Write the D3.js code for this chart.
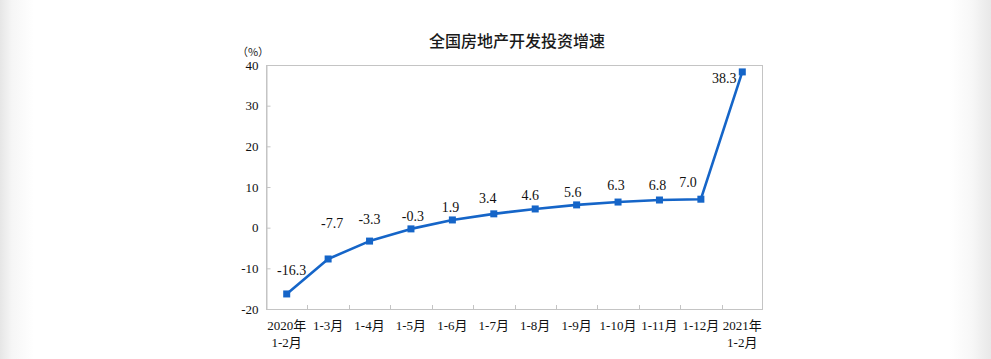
<!DOCTYPE html>
<html>
<head>
<meta charset="utf-8">
<script src="https://cdn.jsdelivr.net/npm/d3@7"></script>
<style>
  html, body { margin: 0; padding: 0; }
  body {
    width: 991px; height: 359px; overflow: hidden;
    background: linear-gradient(to right, #e6e6e6 0px, #f6f6f6 12px, #ffffff 34px, #ffffff 950px, #f7f7f7 972px, #e8e8e8 991px);
  }
  svg { display: block; }
</style>
</head>
<body>
<svg id="chart" width="991" height="359"></svg>
<script>
// ---- data ----
const title = "全国房地产开发投资增速";
const unitLabel = "（%）";
const categories = [
  ["2020年", "1-2月"], ["1-3月"], ["1-4月"], ["1-5月"], ["1-6月"], ["1-7月"],
  ["1-8月"], ["1-9月"], ["1-10月"], ["1-11月"], ["1-12月"], ["2021年", "1-2月"]
];
const values = [-16.3, -7.7, -3.3, -0.3, 1.9, 3.4, 4.6, 5.6, 6.3, 6.8, 7.0, 38.3];
const yTicks = [-20, -10, 0, 10, 20, 30, 40];
// label nudges (layout only)
const labelDx = [5, 4, 0, 2, -2, -6, -5, -4, -2, -2, -13, -18];
const labelDy = [-19, -31, -17, -8, -8, -11, -9, -8, -12, -10, -12, 11];

// ---- layout ----
const svg = d3.select("#chart");
const mLeft = 266, mRight = 763, mTop = 65, mBottom = 309;
const serif = "'Liberation Serif', 'Times New Roman', 'Noto Sans CJK SC', serif";
const color = "#1565c8";
const frame = "#c4c4c4";

const idx = d3.range(categories.length);
const x = d3.scaleBand().domain(idx).range([mLeft, mRight]).paddingInner(0).paddingOuter(0);
const y = d3.scaleLinear().domain([-20, 40]).range([mBottom, mTop]);

// title
svg.append("text")
  .attr("x", 517).attr("y", 47)
  .attr("text-anchor", "middle")
  .style("font-family", "'Noto Sans CJK SC', sans-serif")
  .style("font-size", "16px").style("font-weight", "500")
  .style("fill", "#1a1a1a")
  .text(title);

svg.append("text")
  .attr("x", 253).attr("y", 56)
  .attr("text-anchor", "middle")
  .style("font-family", "'Noto Sans CJK SC', sans-serif")
  .style("font-size", "11px").style("fill", "#222")
  .text(unitLabel);

// frame
svg.append("rect")
  .attr("x", mLeft + 0.5).attr("y", mTop + 0.5)
  .attr("width", mRight - mLeft - 1).attr("height", mBottom - mTop)
  .attr("fill", "none").attr("stroke", frame).attr("stroke-width", 1);

// y axis
const yAxis = d3.axisLeft(y).tickValues(yTicks).tickSize(-4).tickPadding(8).tickFormat(d => String(d));
const gy = svg.append("g").attr("transform", `translate(${mLeft + 0.5},0)`).call(yAxis);
gy.select(".domain").attr("stroke", frame);
gy.selectAll(".tick line").attr("stroke", frame);
gy.selectAll(".tick text").style("font-family", serif).style("font-size", "13px").style("fill", "#111");

// x axis ticks at band boundaries (inward)
const boundaries = idx.slice(1).map(i => x(i));
svg.append("g").selectAll("line").data(boundaries).join("line")
  .attr("x1", d => Math.round(d) + 0.5).attr("x2", d => Math.round(d) + 0.5)
  .attr("y1", mBottom + 0.5).attr("y2", mBottom - 4)
  .attr("stroke", frame);

// x labels
const xl = svg.append("g");
categories.forEach((lines, i) => {
  const t = xl.append("text")
    .attr("x", x(i) + x.bandwidth() / 2)
    .attr("y", 330)
    .attr("text-anchor", "middle")
    .style("font-family", serif).style("font-size", "13px").style("fill", "#111");
  lines.forEach((ln, j) => {
    t.append("tspan").attr("x", x(i) + x.bandwidth() / 2).attr("dy", j === 0 ? 0 : 17).text(ln);
  });
});

// line
const line = d3.line().x((d, i) => x(i) + x.bandwidth() / 2).y(d => y(d));
svg.append("path").datum(values)
  .attr("d", line).attr("fill", "none")
  .attr("stroke", color).attr("stroke-width", 2.6).attr("stroke-linejoin", "round");

// markers
svg.append("g").selectAll("rect").data(values).join("rect")
  .attr("x", (d, i) => x(i) + x.bandwidth() / 2 - 3.5)
  .attr("y", d => y(d) - 3.5)
  .attr("width", 7).attr("height", 7)
  .attr("fill", color);

// value labels
svg.append("g").selectAll("text").data(values).join("text")
  .attr("x", (d, i) => x(i) + x.bandwidth() / 2 + labelDx[i])
  .attr("y", (d, i) => y(d) + labelDy[i])
  .attr("text-anchor", "middle")
  .style("font-family", serif).style("font-size", "14px").style("fill", "#111")
  .text(d => d.toFixed(1));
</script>
</body>
</html>
